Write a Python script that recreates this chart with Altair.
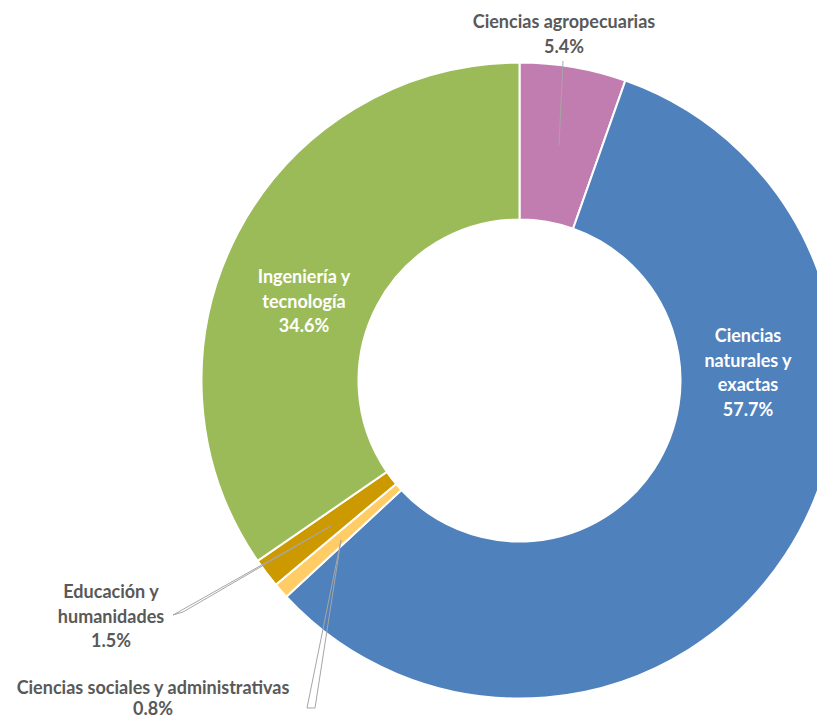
import altair as alt
import pandas as pd

categories = [
    "Ciencias agropecuarias",
    "Ciencias naturales y exactas",
    "Ciencias sociales y administrativas",
    "Educación y humanidades",
    "Ingeniería y tecnología",
]
values = [5.4, 57.7, 0.8, 1.5, 34.6]
colors = ["#C27DB0", "#4F81BD", "#FFCC66", "#CC9900", "#9BBB59"]
label_lines = [
    ["Ciencias agropecuarias"],
    ["Ciencias", "naturales y", "exactas"],
    ["Ciencias sociales y administrativas"],
    ["Educación y", "humanidades"],
    ["Ingeniería y", "tecnología"],
]

df = pd.DataFrame({
    "categoria": categories,
    "valor": values,
    "orden": list(range(len(categories))),
})

CX, CY = 511.5, 372.5
FONT = "Lato"

donut = alt.Chart(df).mark_arc(
    outerRadius=318, innerRadius=161, stroke="white", strokeWidth=2
).encode(
    theta=alt.Theta("valor:Q", stack=True),
    order=alt.Order("orden:Q"),
    color=alt.Color("categoria:N", scale=alt.Scale(domain=categories, range=colors), legend=None),
    x=alt.value(CX),
    y=alt.value(CY),
)

# label placement: x, first baseline, colour, line height
label_pos = {
    "Ciencias agropecuarias": (556, 20, "#595959", 24.5),
    "Ciencias naturales y exactas": (740, 334, "white", 24.5),
    "Ciencias sociales y administrativas": (145, 686, "#595959", 21),
    "Educación y humanidades": (103, 590, "#595959", 24.5),
    "Ingeniería y tecnología": (296, 275, "white", 24.5),
}

layers = [donut]

# leader lines (callout outlines)
leaders = [
    (555, 53, 551, 137),
    (323, 518, 165, 607),
    (323, 518, 175, 604),
    (165, 607, 175, 604),
    (333, 532, 299, 700),
    (333, 532, 307, 700),
    (299, 700, 307, 700),
]
for (x1, y1, x2, y2) in leaders:
    layers.append(
        alt.Chart(pd.DataFrame({"a": [0]})).mark_rule(color="#A6A6A6", strokeWidth=1).encode(
            x=alt.value(x1), y=alt.value(y1), x2=alt.value(x2), y2=alt.value(y2)
        )
    )

for cat, val, lines in zip(categories, values, label_lines):
    x, y, col, lh = label_pos[cat]
    txt = "\n".join(lines + [f"{val:.1f}%"])
    layers.append(
        alt.Chart(pd.DataFrame({"t": [txt]})).mark_text(
            font=FONT, fontSize=18, fontWeight="bold", color=col,
            align="center", baseline="alphabetic", lineBreak="\n", lineHeight=lh,
        ).encode(text="t:N", x=alt.value(x), y=alt.value(y))
    )

chart = alt.layer(*layers).properties(
    width=809, height=712, padding=0,
    autosize=alt.AutoSizeParams(type="none"),
).configure_view(stroke=None)

chart.save("out.html", embed_options={"renderer": "svg", "actions": False})
